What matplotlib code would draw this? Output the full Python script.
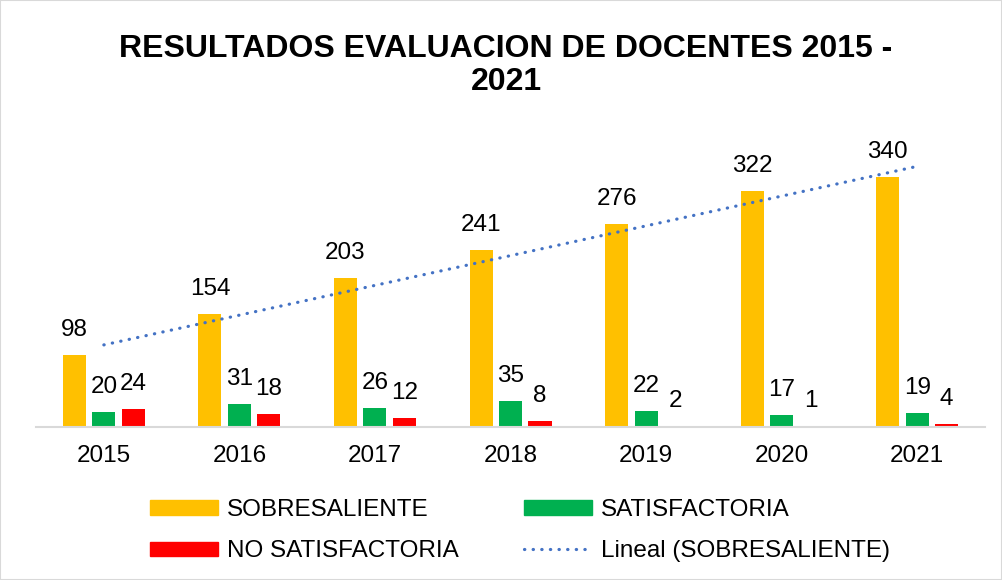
import matplotlib
matplotlib.use("Agg")
import matplotlib.pyplot as plt
import numpy as np
from matplotlib.patches import Patch
from matplotlib.lines import Line2D

plt.rcParams['font.family'] = ['Liberation Sans', 'DejaVu Sans']

# datos
years = ['2015', '2016', '2017', '2018', '2019', '2020', '2021']
sobresaliente = [98, 154, 203, 241, 276, 322, 340]
satisfactoria = [20, 31, 26, 35, 22, 17, 19]
no_satisfactoria = [24, 18, 12, 8, 2, 1, 4]

c_sob = '#FFC000'
c_sat = '#00B050'
c_nos = '#FF0000'
c_trend = '#4472C4'

fig = plt.figure(figsize=(10.02, 5.8), dpi=100)
ax = fig.add_axes([0.036, 0.2638, 0.947, 0.481])

x = np.arange(len(years))
w = 0.17
step = 0.2175

series = [(sobresaliente, c_sob, -step), (satisfactoria, c_sat, 0), (no_satisfactoria, c_nos, step)]
for vals, col, off in series:
    bars = ax.bar(x + off, vals, w, color=col)
    for b, v in zip(bars, vals):
        ax.annotate(str(v), (b.get_x() + b.get_width() / 2, b.get_height()),
                    xytext=(0, 18), textcoords='offset points',
                    ha='center', va='center', fontsize=17.5)

# linea de tendencia lineal
m, c = np.polyfit(x, sobresaliente, 1)
ax.plot(x, m * x + c, color=c_trend, lw=2.3,
        linestyle=(0, (0.1, 2.6)), dash_capstyle='round')

ax.set_xlim(-0.5, len(years) - 0.5)
ax.set_ylim(0, 380)
ax.set_xticks(x)
ax.set_xticklabels(years, fontsize=17.5)
ax.set_yticks([])
ax.tick_params(axis='x', length=0, pad=13)
for s in ['top', 'right', 'left']:
    ax.spines[s].set_visible(False)
ax.spines['bottom'].set_color('#D9D9D9')
ax.spines['bottom'].set_linewidth(1.5)

fig.text(0.505, 0.887, 'RESULTADOS EVALUACION DE DOCENTES 2015 -\n2021',
         ha='center', va='center', fontsize=23, fontweight='bold', linespacing=1.1)

handles = [Patch(color=c_sob), Patch(color=c_sat), Patch(color=c_nos),
           Line2D([], [], color=c_trend, lw=2.3, linestyle=(0, (0.1, 2.6)), dash_capstyle='round')]
labels = ['SOBRESALIENTE', 'SATISFACTORIA', 'NO SATISFACTORIA', 'Lineal (SOBRESALIENTE)']
# orden por filas
order = [0, 2, 1, 3]
fig.legend([handles[i] for i in order], [labels[i] for i in order],
           ncol=2, loc='center', bbox_to_anchor=(0.519, 0.085), frameon=False,
           fontsize=17.5, handlelength=2.8, handleheight=0.55, handletextpad=0.37,
           columnspacing=2.7, labelspacing=0.8)

fig.patches.append(plt.Rectangle((0, 0), 1, 1, transform=fig.transFigure,
                                 fill=False, edgecolor='#D9D9D9', lw=1.5))

fig.savefig('out.png', dpi=100)
